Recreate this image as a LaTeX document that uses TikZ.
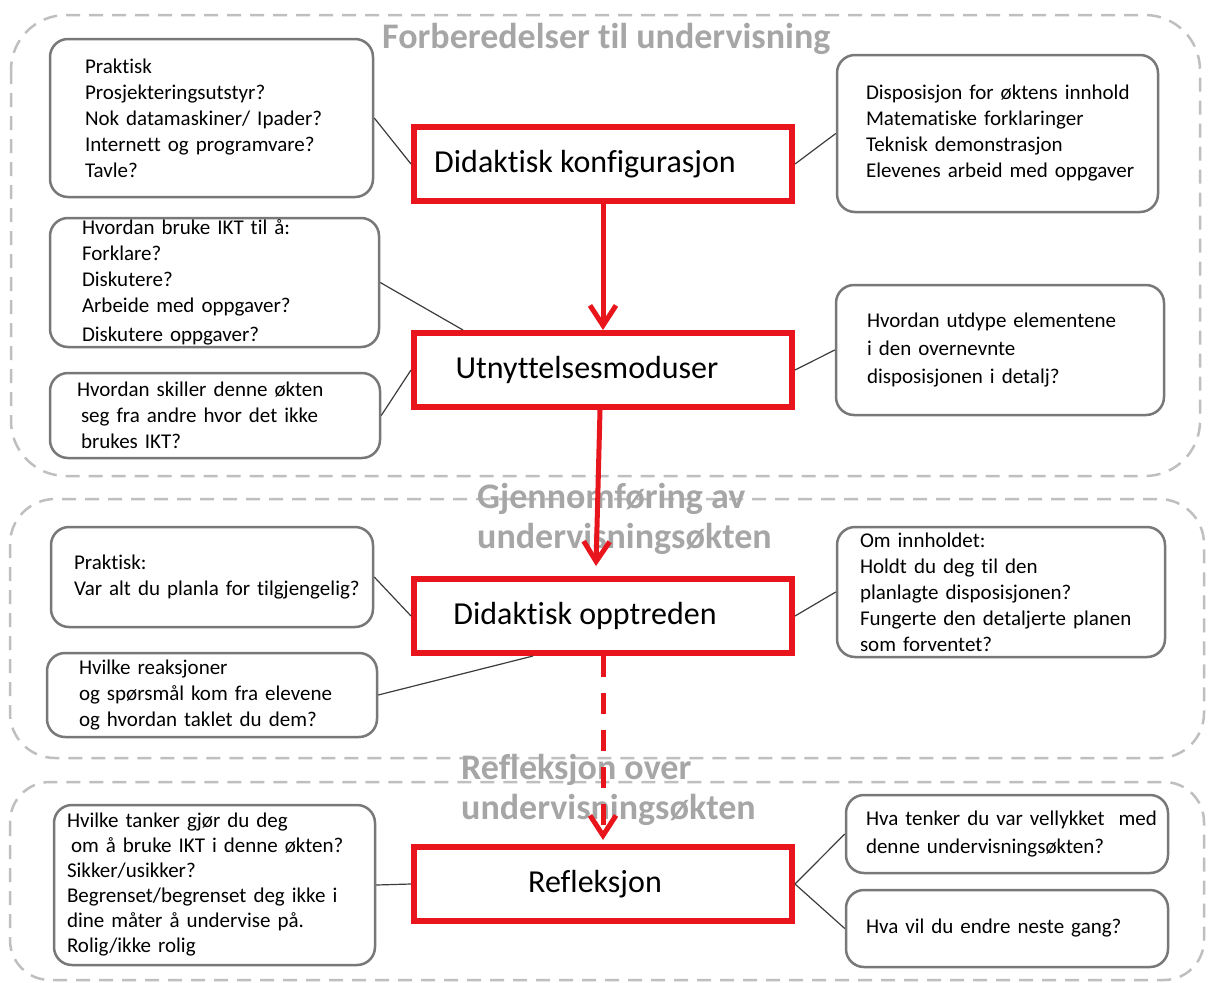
\documentclass[tikz,border=0pt]{standalone}
\usepackage{fontspec}
\setmainfont{Carlito}[Ligatures=NoCommon]
\usepackage{xcolor}
\usepackage{tikz}
\usetikzlibrary{arrows.meta,positioning}
\definecolor{framecolor}{RGB}{191,191,191}
\definecolor{titlecolor}{RGB}{166,166,166}
\definecolor{boxcolor}{RGB}{120,120,120}
\definecolor{linkcolor}{RGB}{60,60,60}
\definecolor{mainred}{RGB}{232,22,28}

\begin{document}
\begin{tikzpicture}[x=1pt, y=-1pt]
    % Define styles
    \tikzstyle{stage} = [rectangle, draw=mainred, line width=6pt, fill=white, minimum width=378pt, minimum height=74pt]
    \tikzstyle{stagetext} = [inner sep=0pt, font=\fontsize{32}{38}\selectfont]
    \tikzstyle{note} = [rectangle, rounded corners=18pt, draw=boxcolor, line width=2.5pt, fill=white, align=left, inner sep=0pt, font=\fontsize{21}{26}\selectfont, execute at begin node={\rightskip=0pt plus 1fil minus 150pt\hyphenpenalty=10000\linepenalty=1000}]
    \tikzstyle{phase} = [draw=framecolor, line width=2.5pt, dash pattern=on 14pt off 9pt]
    \tikzstyle{phasetitle} = [anchor=north west, align=left, inner sep=0pt, text=titlecolor, font=\fontsize{36}{40}\selectfont\bfseries]
    \tikzstyle{link} = [draw=linkcolor, line width=1.2pt]
    \tikzstyle{flow} = [draw=mainred, line width=5pt, -{Straight Barb[length=20pt, width=26pt]}]

    \useasboundingbox (0,0) rectangle (1208,983);

    % Phase frames
    \draw[phase, rounded corners=55pt] (11,15) rectangle (1200,476);
    \draw[phase, rounded corners=45pt] (10,499) rectangle (1204,758);
    \draw[phase, rounded corners=40pt] (10,782) rectangle (1204,980);

    % Phase titles
    \node[phasetitle] (preptitle) at (382,23) {Forberedelser til undervisning};
    \node[phasetitle] (exectitle) at (477,483) {Gjennomføring av\\undervisningsøkten};
    \node[phasetitle] (refltitle) at (461,754) {Refleksjon over\\undervisningsøkten};

    % Main stages (middle)
    \node[stage, label={[stagetext, xshift=-18pt]center:Didaktisk konfigurasjon}] (konfig) at (603,164) {};
    \node[stage, label={[stagetext, xshift=-16pt]center:Utnyttelsesmoduser}] (utnytt) at (603,370) {};
    \node[stage, label={[stagetext, xshift=-18pt]center:Didaktisk opptreden}] (opptr) at (603,616) {};
    \node[stage, label={[stagetext, xshift=-8pt]center:Refleksjon}] (refl) at (603,884) {};

    % Questions (left side)
    \node[note, minimum width=323pt, minimum height=158pt, text width=253pt] (praktisk) at (211.5,118) {Praktisk\\Prosjekteringsutstyr?\\Nok datamaskiner/ Ipader?\\Internett og programvare?\\Tavle?};
    \node[note, minimum width=329pt, minimum height=129pt, text width=265pt] (ikt) at (214.5,282.5) {Hvordan bruke IKT til å:\\Forklare?\\Diskutere?\\Arbeide med oppgaver?\\[3pt]Diskutere oppgaver?};
    \node[note, minimum width=330pt, minimum height=85pt, text width=276pt] (skiller) at (215,415.5) {Hvordan skiller denne økten\\\hspace*{4pt}seg fra andre hvor det ikke\\\hspace*{4pt}brukes IKT?};
    \node[note, minimum width=322pt, minimum height=100pt, text width=276pt] (tilgjengelig) at (212,577) {Praktisk:\\Var alt du planla for tilgjengelig?};
    \node[note, minimum width=330pt, minimum height=84pt, text width=266pt] (reaksjoner) at (212,695) {Hvilke reaksjoner\\og spørsmål kom fra elevene\\og hvordan taklet du dem?};
    \node[note, minimum width=321pt, minimum height=160pt, text width=295pt, font=\fontsize{21}{25}\selectfont] (tanker) at (214.5,885) {Hvilke tanker gjør du deg\\\hspace*{4pt}om å bruke IKT i denne økten?\\Sikker/usikker?\\Begrenset/begrenset deg ikke i\\dine måter å undervise på.\\Rolig/ikke rolig};

    % Questions (right side)
    \node[note, minimum width=321pt, minimum height=157pt, text width=263pt] (disposisjon) at (997.5,133.5) {Disposisjon for øktens innhold\\Matematiske forklaringer\\Teknisk demonstrasjon\\Elevenes arbeid med oppgaver};
    \node[note, minimum width=328pt, minimum height=130pt, text width=266pt, font=\fontsize{21}{28}\selectfont] (utdype) at (1000,350) {Hvordan utdype elementene\\i den overnevnte\\disposisjonen i detalj?};
    \node[note, minimum width=328pt, minimum height=130pt, text width=282pt] (innholdet) at (1001,592) {Om innholdet:\\Holdt du deg til den\\planlagte disposisjonen?\\Fungerte den detaljerte planen\\som forventet?};
    \node[note, minimum width=322pt, minimum height=78pt, text width=282pt, font=\fontsize{21}{28}\selectfont] (vellykket) at (1007,834) {Hva tenker du var vellykket\ \ med\\denne undervisningsøkten?};
    \node[note, minimum width=322pt, minimum height=77pt, text width=282pt] (endre) at (1007,928.5) {Hva vil du endre neste gang?};

    % Thin connectors
    \draw[link] (praktisk.east) -- (konfig.west);
    \draw[link] (konfig.east) -- (disposisjon.west);
    \draw[link] (ikt.east) -- ([xshift=52pt]utnytt.north west);
    \draw[link] (skiller.east) -- (utnytt.west);
    \draw[link] (utnytt.east) -- (utdype.west);
    \draw[link] (tilgjengelig.east) -- (opptr.west);
    \draw[link] (reaksjoner.east) -- ([xshift=122pt]opptr.south west);
    \draw[link] (opptr.east) -- (innholdet.west);
    \draw[link] (tanker.east) -- (refl.west);
    \draw[link] (refl.east) -- (vellykket.west);
    \draw[link] (refl.east) -- (endre.west);

    % Main flow arrows
    \draw[flow] (konfig.south) -- (utnytt.north);
    \draw[flow] ([xshift=-3pt]utnytt.south) -- ([xshift=-7pt, yshift=10pt]opptr.north);
    \draw[flow, dash pattern=on 21pt off 16pt] (opptr.south) -- ([yshift=4pt]refl.north);
\end{tikzpicture}
\end{document}
